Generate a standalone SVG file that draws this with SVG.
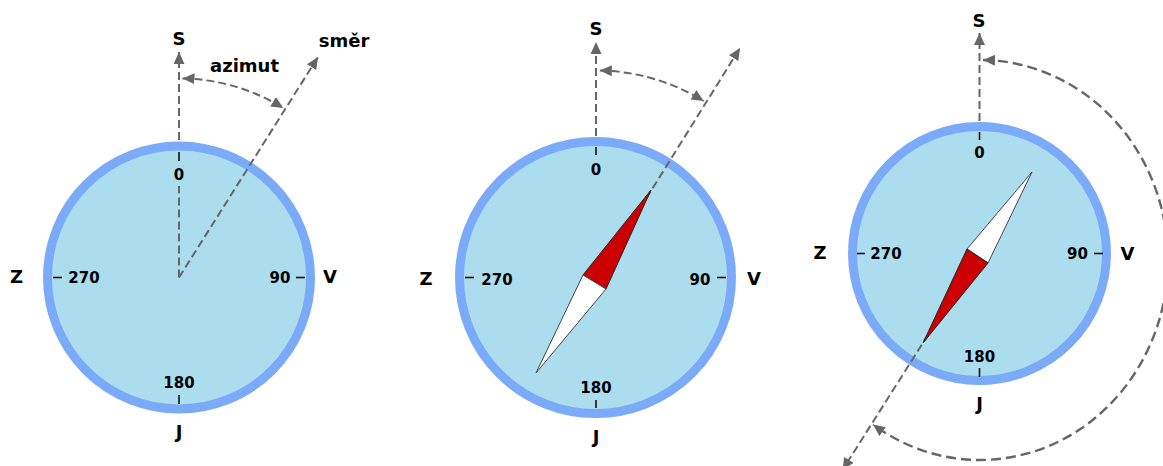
<svg xmlns="http://www.w3.org/2000/svg" width="1163" height="466" viewBox="0 0 1163 466">
<style>
.ring{fill:#ACDDEE;stroke:#7BAAF8;stroke-width:9}
.tick{stroke:#111;stroke-width:1.6}
.lbl{font-family:"DejaVu Sans",Verdana,sans-serif;font-weight:bold;font-size:18px;fill:#000;text-anchor:middle}
.num{font-family:"DejaVu Sans",Verdana,sans-serif;font-weight:bold;font-size:15px;fill:#000;text-anchor:middle}
.dl{fill:none;stroke:#666;stroke-width:2;stroke-dasharray:8,4}
.da{fill:none;stroke:#666;stroke-width:2.4;stroke-dasharray:10,5}
.red{fill:#CC0000;stroke:#222;stroke-width:1}
.wht{fill:#fff;stroke:#444;stroke-width:1}
</style>
<defs>
<marker id="ah" markerUnits="userSpaceOnUse" markerWidth="13" markerHeight="11" refX="12" refY="5.5" orient="auto-start-reverse">
<path d="M0,0 L12,5.5 L0,11 Z" fill="#666"/>
</marker>
</defs>

<g id="compass1">
<circle class="ring" cx="179" cy="277.5" r="131.5"/>
<line class="tick" x1="179" y1="152" x2="179" y2="161"/>
<line class="tick" x1="179" y1="395" x2="179" y2="404"/>
<line class="tick" x1="53" y1="277.5" x2="62" y2="277.5"/>
<line class="tick" x1="296" y1="277.5" x2="305" y2="277.5"/>
<text class="num" x="179" y="180">0</text>
<text class="num" x="179" y="388">180</text>
<text class="num" x="84" y="283">270</text>
<text class="num" x="280" y="283">90</text>
<text class="lbl" x="179" y="45">S</text>
<text class="lbl" x="16.5" y="283">Z</text>
<text class="lbl" x="330" y="283">V</text>
<text class="lbl" x="179" y="438">J</text>
<text class="lbl" x="244.5" y="72">azimut</text>
<text class="lbl" x="344" y="47">směr</text>
</g>

<g id="compass2">
<circle class="ring" cx="595.5" cy="277.5" r="136"/>
<line class="tick" x1="596" y1="147" x2="596" y2="155"/>
<line class="tick" x1="596" y1="400" x2="596" y2="408"/>
<line class="tick" x1="465" y1="277.5" x2="474" y2="277.5"/>
<line class="tick" x1="717" y1="277.5" x2="726" y2="277.5"/>
<text class="num" x="596" y="175">0</text>
<text class="num" x="596" y="393">180</text>
<text class="num" x="497" y="285">270</text>
<text class="num" x="700" y="285">90</text>
<text class="lbl" x="596" y="35">S</text>
<text class="lbl" x="426" y="285">Z</text>
<text class="lbl" x="754" y="285">V</text>
<text class="lbl" x="596" y="443">J</text>
</g>

<g id="compass3">
<circle class="ring" cx="979.5" cy="253.5" r="127"/>
<line class="tick" x1="979.5" y1="132" x2="979.5" y2="140"/>
<line class="tick" x1="979.5" y1="368" x2="979.5" y2="377"/>
<line class="tick" x1="857" y1="253.5" x2="865" y2="253.5"/>
<line class="tick" x1="1094" y1="253.5" x2="1103" y2="253.5"/>
<text class="num" x="979.5" y="158">0</text>
<text class="num" x="979.5" y="362">180</text>
<text class="num" x="886" y="259">270</text>
<text class="num" x="1077.5" y="259">90</text>
<text class="lbl" x="979" y="27">S</text>
<text class="lbl" x="820" y="259">Z</text>
<text class="lbl" x="1127.5" y="260">V</text>
<text class="lbl" x="979.5" y="410">J</text>
</g>

<g id="connectors">
<line class="dl" x1="179" y1="140" x2="179" y2="52" marker-end="url(#ah)"/>
<line class="dl" x1="179" y1="277.5" x2="179" y2="186"/>
<line class="dl" x1="179" y1="277.5" x2="318" y2="57" marker-end="url(#ah)"/>
<path class="dl" d="M182.5,78.5 A199,199 0 0 1 283.3,108" marker-start="url(#ah)" marker-end="url(#ah)"/>

<line class="dl" x1="596" y1="136" x2="596" y2="42" marker-end="url(#ah)"/>
<line class="dl" x1="595.5" y1="280" x2="740" y2="48" marker-end="url(#ah)"/>
<path class="dl" d="M599.8,70.5 A207,207 0 0 1 703.7,101" marker-start="url(#ah)" marker-end="url(#ah)"/>

<line class="dl" x1="979.5" y1="121" x2="979.5" y2="33" marker-end="url(#ah)"/>
<line class="dl" x1="979.5" y1="253.5" x2="842.5" y2="470" marker-end="url(#ah)"/>
<path class="da" d="M983,60 A188,200 0 1 1 873,424.5" marker-start="url(#ah)" marker-end="url(#ah)"/>
</g>

<g id="needle2">
<polygon class="red" points="651,190 606,289 583,275"/>
<polygon class="wht" points="583,275 606,289 536,373"/>
</g>
<g id="needle3">
<polygon class="wht" points="1032,172 988,263 967,249"/>
<polygon class="red" points="967,249 988,263 923,343"/>
</g>
</svg>
